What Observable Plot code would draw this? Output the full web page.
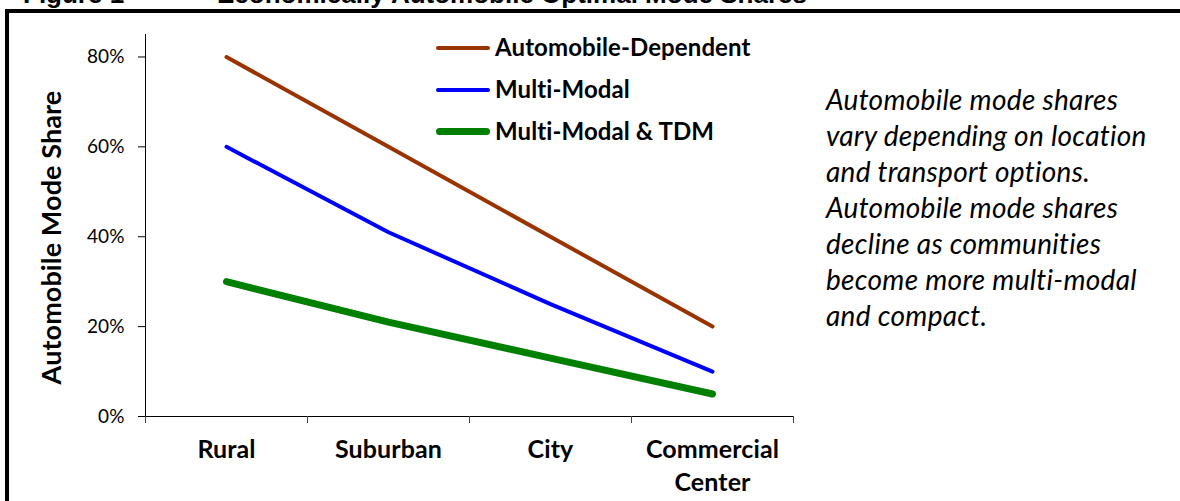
<!DOCTYPE html>
<html>
<head>
<meta charset="utf-8">
<script src="https://cdn.jsdelivr.net/npm/d3@7"></script>
<script src="https://cdn.jsdelivr.net/npm/@observablehq/plot@0.6"></script>
<style>
  html, body { margin: 0; padding: 0; background: #fff; }
  body { width: 1180px; height: 501px; overflow: hidden; position: relative; font-family: Lato, sans-serif; }
  body, svg, svg text { font-variant-ligatures: none; font-feature-settings: "liga" 0, "clig" 0, "dlig" 0, "calt" 0; }
  #title { position: absolute; left: 23px; top: -19px; font: bold 26px "Liberation Sans", Arial, sans-serif; line-height: 26px; white-space: pre; color: #000; }
  #title .t2 { position: absolute; left: 194px; top: 0; }
  #box { position: absolute; left: 5px; top: 9px; width: 1300px; height: 600px; border: 4px solid #000; box-sizing: border-box; }
  #chart { position: absolute; left: 0; top: 0; }
  #legend { position: absolute; left: 0; top: 0; }
  .lg-row { position: absolute; left: 495px; font: bold 24px Lato, sans-serif; line-height: 24px; color: #000; white-space: nowrap; letter-spacing: 0.1px; }
  .lg-sw { position: absolute; left: 436px; width: 54px; border-radius: 4px; }
  #note { position: absolute; left: 826px; top: 81px; font: italic 28px Lato, sans-serif; line-height: 36px; color: #000; white-space: nowrap; letter-spacing: 0.3px; }
</style>
</head>
<body>
<div id="title">Figure 1<span class="t2">Economically Automobile Optimal Mode Shares</span></div>
<div id="box"></div>
<div id="chart"></div>
<div id="legend"></div>
<div id="note"></div>
<script>
// ---- data ----
const categories = ["Rural", "Suburban", "City", "Commercial\nCenter"];
const seriesNames = ["Automobile-Dependent", "Multi-Modal", "Multi-Modal & TDM"];
const autoDependent = [0.80, 0.60, 0.40, 0.20];
const multiModal = [0.60, 0.41, 0.25, 0.10];
const multiModalTDM = [0.30, 0.21, 0.13, 0.05];
const yTicks = [0, 0.2, 0.4, 0.6, 0.8];
const yLabel = "Automobile Mode Share";
const noteLines = [
  "Automobile mode shares",
  "vary depending on location",
  "and transport options.",
  "Automobile mode shares",
  "decline as communities",
  "become more multi-modal",
  "and compact."
];
const seriesColors = ["#993300", "#0000ff", "#008000"];
const seriesWidths = [4, 4, 7];

// ---- build table ----
const seriesValues = [autoDependent, multiModal, multiModalTDM];
const rows = [];
seriesValues.forEach((vals, s) => vals.forEach((v, i) => rows.push({series: seriesNames[s], i, v})));
const boundaries = d3.range(categories.length + 1).map(k => k - 0.5);

const lineMarks = seriesNames.map((name, s) =>
  Plot.line(rows.filter(r => r.series === name), {
    x: "i", y: "v", stroke: seriesColors[s], strokeWidth: seriesWidths[s],
    strokeLinecap: "round", strokeLinejoin: "round"
  })
);

const chart = Plot.plot({
  width: 1180,
  height: 501,
  marginLeft: 145,
  marginRight: 387,
  marginTop: 34,
  marginBottom: 85,
  style: {background: "transparent", fontFamily: "Lato, sans-serif", color: "#000", letterSpacing: "0.1px"},
  x: {type: "linear", domain: [-0.5, categories.length - 0.5]},
  y: {domain: [0, 0.85]},
  marks: [
    Plot.ruleX([boundaries[0]], {stroke: "#000", strokeWidth: 1}),
    Plot.ruleY([0], {stroke: "#000", strokeWidth: 1.2}),
    Plot.axisY({ticks: yTicks, tickSize: 7, tickPadding: 14, tickFormat: d3.format(".0%"), fontSize: 19, label: null, stroke: "#000"}),
    Plot.axisX({ticks: boundaries, tickSize: 7, tickFormat: () => "", label: null, stroke: "#444"}),
    Plot.axisX({ticks: d3.range(categories.length), tickSize: 0, tickPadding: 18, tickFormat: i => categories[i],
      fontSize: 25, fontWeight: "bold", lineHeight: 1.32, label: null}),
    Plot.text([yLabel], {frameAnchor: "left", rotate: -90, dx: -93, dy: 12, fontSize: 27, fontWeight: "bold", textAnchor: "middle", lineAnchor: "middle"}),
    ...lineMarks
  ]
});
document.getElementById("chart").appendChild(chart);

// ---- legend ----
const legend = document.getElementById("legend");
const swY = [48, 90, 131];
const baseY = [55, 97, 139];
seriesNames.forEach((name, s) => {
  const sw = document.createElement("div");
  sw.className = "lg-sw";
  sw.style.background = seriesColors[s];
  sw.style.height = seriesWidths[s] + "px";
  sw.style.top = (swY[s] - seriesWidths[s] / 2) + "px";
  legend.appendChild(sw);
  const t = document.createElement("div");
  t.className = "lg-row";
  t.textContent = name;
  t.style.top = (baseY[s] - 20) + "px";
  legend.appendChild(t);
});

// ---- note ----
document.getElementById("note").innerHTML = noteLines.map(l => `<div>${l}</div>`).join("");
</script>
</body>
</html>
